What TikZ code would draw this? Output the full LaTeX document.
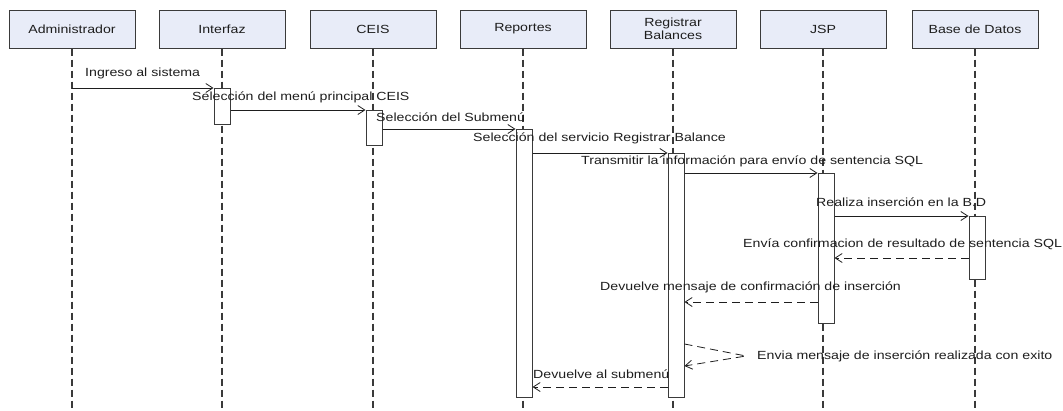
\documentclass[tikz,border=0pt]{standalone}
\usepackage{fontspec}
\setmainfont[FakeStretch=1.2]{Liberation Sans}
\usetikzlibrary{arrows.meta}
\definecolor{boxfill}{HTML}{E8ECF8}
\definecolor{boxline}{HTML}{3A3A3A}
\definecolor{ink}{HTML}{1E1E1E}
\tikzset{
  actor/.style={draw=boxline, line width=1pt, fill=boxfill, minimum width=126pt, minimum height=38pt, inner sep=0pt, align=center, font=\fontsize{11.8}{13}\selectfont, text=ink},
  lifeline/.style={draw=boxline, line width=1.1pt, dash pattern=on 7pt off 4pt},
  act/.style={draw=boxline, line width=1pt, fill=white, minimum width=16pt, inner sep=0pt, anchor=north},
  msg/.style={draw=ink, line width=0.8pt, -{Straight Barb[length=7pt,width=9pt,line width=0.8pt]}},
  ret/.style={msg, dash pattern=on 8pt off 5pt},
  lbl/.style={anchor=west, inner sep=0pt, font=\fontsize{11.8}{13}\selectfont, text=ink}
}
\begin{document}
\begin{tikzpicture}[x=1pt,y=-1pt]
\useasboundingbox[fill=white] (0,0) rectangle (1063,410);
% actors
\node[actor] (adm) at (72,29) {Administrador};
\node[actor] (int) at (222,29) {Interfaz};
\node[actor] (ceis) at (373,29) {CEIS};
\node[actor] (rep) at (523,29) {Reportes};
\node[actor] (reg) at (673,29) {Registrar\\Balances};
\node[actor] (jsp) at (823,29) {JSP};
\node[actor] (bd) at (975,29) {Base de Datos};
% lifeline ends
\foreach \n in {adm,int,ceis,rep,reg,jsp,bd}{
  \coordinate (\n-end) at (\n.south |- 0,410);
  \draw[lifeline] (\n.south) -- (\n-end);
}
% activations
\node[act, minimum height=36pt] (aint) at (222,88) {};
\node[act, minimum height=35pt] (aceis) at (374,110) {};
\node[act, minimum height=268pt] (arep) at (524,129) {};
\node[act, minimum height=244pt] (areg) at (676,153) {};
\node[act, minimum height=150pt] (ajsp) at (826,173) {};
\node[act, minimum height=63pt] (abd) at (977,216) {};
% calls
\draw[msg] (adm.south |- aint.north west) -- (aint.north west);
\node[lbl] (l1) at (85,73) {Ingreso al sistema};
\draw[msg] (aint.east |- aceis.north west) -- (aceis.north west);
\node[lbl] (l2) at (192,97) {Selección del menú principal CEIS};
\draw[msg] (aceis.east |- arep.north west) -- (arep.north west);
\node[lbl] (l3) at (376,117) {Selección del Submenú};
\draw[msg] (arep.east |- areg.north west) -- (areg.north west);
\node[lbl] (l4) at (473,138) {Selección del servicio Registrar Balance};
\draw[msg] (areg.east |- ajsp.north west) -- (ajsp.north west);
\node[lbl] (l5) at (581,161) {Transmitir la información para envío de sentencia SQL};
\draw[msg] (ajsp.east |- abd.north west) -- (abd.north west);
\node[lbl] (l6) at (816,202) {Realiza inserción en la B.D};
% returns
\coordinate (r7) at (0,258);
\draw[ret] (abd.west |- r7) -- (ajsp.east |- r7);
\node[lbl] (l7) at (743,244) {Envía confirmacion de resultado de sentencia SQL};
\coordinate (r8) at (0,302);
\draw[ret] (ajsp.west |- r8) -- (areg.east |- r8);
\node[lbl] (l8) at (600,287) {Devuelve mensaje de confirmación de inserción};
\coordinate (s1) at (0,344);
\coordinate (s2) at (0,366);
\coordinate (sp) at (746,356);
\draw[ret] (areg.east |- s1) -- (sp) -- (areg.east |- s2);
\node[lbl] (l9) at (757,356) {Envia mensaje de inserción realizada con exito};
\coordinate (r10) at (0,387);
\draw[ret] (areg.west |- r10) -- (arep.east |- r10);
\node[lbl] (l10) at (533,374) {Devuelve al submenú};
\end{tikzpicture}
\end{document}
